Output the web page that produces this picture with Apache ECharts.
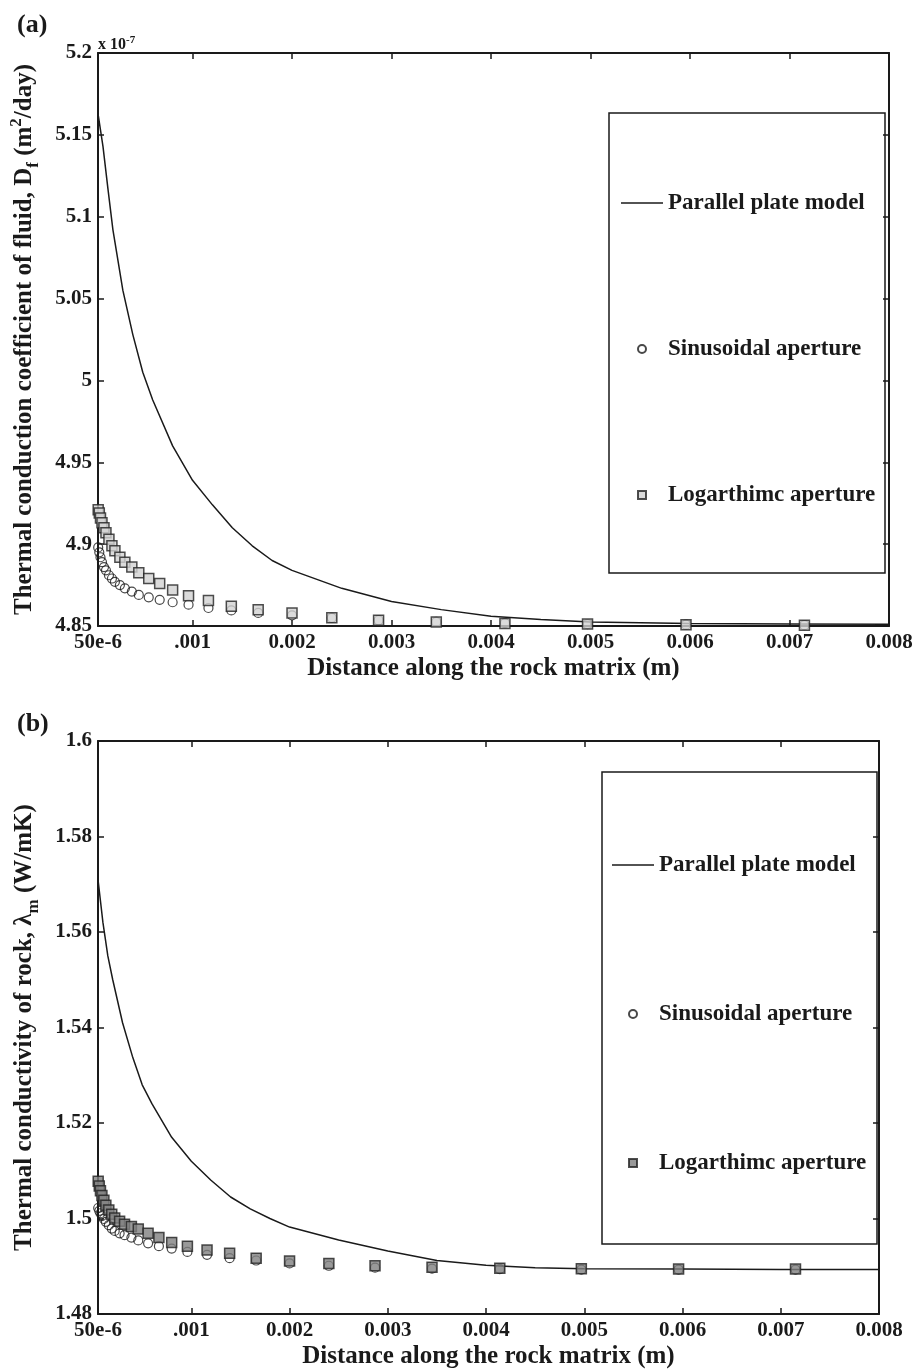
<!DOCTYPE html>
<html>
<head>
<meta charset="utf-8">
<script src="https://cdn.jsdelivr.net/npm/echarts@6/dist/echarts.min.js"></script>
<style>
html, body { margin: 0; padding: 0; background: #fff; }
#chart { width: 921px; height: 1371px; }
</style>
</head>
<body>
<div id="chart"></div>
<script>
// x positions (m) of the marker points
var markerX = [0.000052, 0.000063, 0.000075, 0.00009, 0.00011, 0.00013, 0.00016, 0.00019, 0.00022, 0.00027,
    0.00032, 0.00039, 0.00046, 0.00056, 0.00067, 0.0008, 0.00096, 0.00116, 0.00139, 0.00166,
    0.002, 0.0024, 0.00287, 0.00345, 0.00414, 0.00497, 0.00596, 0.00715];
// x positions (m) for the parallel plate curve
var curveX = [0.00005, 0.0001, 0.00015, 0.0002, 0.0003, 0.0004, 0.0005, 0.0006, 0.0008, 0.001,
    0.0012, 0.0014, 0.0016, 0.0018, 0.002, 0.0025, 0.003, 0.0035, 0.004, 0.0045,
    0.005, 0.006, 0.007, 0.008];

// (a) D_f, in units of 1e-7 m2/day
var plateA = [5.163, 5.143, 5.117, 5.092, 5.055, 5.028, 5.005, 4.988, 4.960, 4.939,
    4.924, 4.910, 4.899, 4.890, 4.884, 4.873, 4.865, 4.860, 4.856, 4.854,
    4.8525, 4.8515, 4.8512, 4.851];
var sinA = [4.898, 4.895, 4.892, 4.889, 4.886, 4.884, 4.881, 4.879, 4.877, 4.875,
    4.873, 4.871, 4.869, 4.8675, 4.866, 4.8645, 4.863, 4.861, 4.8595, 4.858,
    4.8565, 4.855, 4.8535, 4.8525, 4.8517, 4.8512, 4.8508, 4.8505];
var logA = [4.921, 4.919, 4.916, 4.913, 4.910, 4.907, 4.903, 4.899, 4.896, 4.892,
    4.889, 4.886, 4.8826, 4.879, 4.876, 4.872, 4.8685, 4.8655, 4.862, 4.860,
    4.858, 4.855, 4.8535, 4.8525, 4.8515, 4.8512, 4.8508, 4.8505];

// (b) lambda_m, W/mK
var plateB = [1.571, 1.562, 1.555, 1.550, 1.541, 1.534, 1.528, 1.524, 1.517, 1.512,
    1.508, 1.5045, 1.502, 1.500, 1.4982, 1.4955, 1.4932, 1.4912, 1.4902, 1.4897,
    1.4895, 1.4894, 1.4893, 1.4893];
var sinB = [1.5022, 1.5016, 1.5011, 1.5005, 1.4999, 1.4993, 1.4986, 1.4979, 1.4974, 1.4969,
    1.4965, 1.4960, 1.4954, 1.4948, 1.4942, 1.4937, 1.4930, 1.4924, 1.4917, 1.4912,
    1.4906, 1.4901, 1.4897, 1.4895, 1.4894, 1.4893, 1.4893, 1.4893];
var logB = [1.5078, 1.5068, 1.5058, 1.5048, 1.5038, 1.5028, 1.5018, 1.5009, 1.5001, 1.4994,
    1.4988, 1.4983, 1.4978, 1.4969, 1.4960, 1.4950, 1.4942, 1.4934, 1.4927, 1.4917,
    1.4911, 1.4906, 1.4901, 1.4898, 1.4896, 1.4895, 1.4894, 1.4894];

var xTicks = [0.00005, 0.001, 0.002, 0.003, 0.004, 0.005, 0.006, 0.007, 0.008];
var xTickLabels = ['50e-6', '.001', '0.002', '0.003', '0.004', '0.005', '0.006', '0.007', '0.008'];

var FONT = 'Liberation Serif';
var INK = '#1a1a1a';

function pairs(xs, ys) {
    return xs.map(function(x, i) { return [x, ys[i]]; });
}

function xLabel(v) {
    var best = 0;
    for (var i = 1; i < xTicks.length; i++) {
        if (Math.abs(xTicks[i] - v) < Math.abs(xTicks[best] - v)) best = i;
    }
    return xTickLabels[best];
}

var axisLine = { lineStyle: { color: INK, width: 2 } };
var tickStyle = { color: INK, width: 1.5 };
var labelFont = { fontFamily: FONT, fontWeight: 'bold', fontSize: 21, color: INK };
var nameFont = {
    fontFamily: FONT, fontWeight: 'bold', fontSize: 25, color: INK, lineHeight: 34,
    rich: {
        sub: { fontFamily: FONT, fontWeight: 'bold', fontSize: 17, lineHeight: 17, verticalAlign: 'bottom', color: INK },
        sup: { fontFamily: FONT, fontWeight: 'bold', fontSize: 17, lineHeight: 17, verticalAlign: 'top', color: INK }
    }
};

function xAxes(grid) {
    var bottom = {
        type: 'value', gridIndex: grid, position: 'bottom', min: 0.00005, max: 0.008,
        name: 'Distance along the rock matrix (m)', nameLocation: 'middle', nameGap: 30,
        nameTextStyle: { fontFamily: FONT, fontWeight: 'bold', fontSize: 25, color: INK },
        axisLine: axisLine,
        axisTick: { inside: true, length: 6, lineStyle: tickStyle, customValues: xTicks },
        axisLabel: Object.assign({ margin: 6, customValues: xTicks, formatter: xLabel }, labelFont),
        splitLine: { show: false }
    };
    var top = {
        type: 'value', gridIndex: grid, position: 'top', min: 0.00005, max: 0.008,
        axisLine: axisLine,
        axisTick: { inside: true, length: 6, lineStyle: tickStyle, customValues: xTicks },
        axisLabel: { show: false },
        splitLine: { show: false }
    };
    return [bottom, top];
}

function yAxes(grid, min, max, step, name) {
    var left = {
        type: 'value', gridIndex: grid, position: 'left', min: min, max: max, interval: step,
        name: name, nameLocation: 'middle', nameGap: 56, nameRotate: 90,
        nameTextStyle: nameFont,
        axisLine: axisLine,
        axisTick: { inside: true, length: 6, lineStyle: tickStyle },
        axisLabel: Object.assign({ margin: 6 }, labelFont),
        splitLine: { show: false }
    };
    var right = {
        type: 'value', gridIndex: grid, position: 'right', min: min, max: max, interval: step,
        axisLine: axisLine,
        axisTick: { inside: true, length: 6, lineStyle: tickStyle },
        axisLabel: { show: false },
        splitLine: { show: false }
    };
    return [left, right];
}

function panelSeries(axis, suffix, plate, sin, log, squareFill) {
    return [{
        name: 'Parallel plate model' + suffix, type: 'line',
        xAxisIndex: axis, yAxisIndex: axis,
        data: pairs(curveX, plate),
        symbol: 'none', showSymbol: false,
        lineStyle: { color: INK, width: 1.5 },
        itemStyle: { color: INK },
        z: 2
    }, {
        name: 'Sinusoidal aperture' + suffix, type: 'scatter',
        xAxisIndex: axis, yAxisIndex: axis,
        data: pairs(markerX, sin),
        symbol: 'circle', symbolSize: 9,
        itemStyle: { color: 'rgba(255,255,255,0)', borderColor: INK, borderWidth: 1.2 },
        z: 3
    }, {
        name: 'Logarthimc aperture' + suffix, type: 'scatter',
        xAxisIndex: axis, yAxisIndex: axis,
        data: pairs(markerX, log),
        symbol: 'rect', symbolSize: 10,
        itemStyle: { color: squareFill, borderColor: '#222', borderWidth: 1.5 },
        z: 4
    }];
}

function legendFor(suffix, left, top, gap) {
    return {
        orient: 'vertical', left: left, top: top, itemGap: gap,
        itemWidth: 42, itemHeight: 8,
        selectedMode: false,
        textStyle: { fontFamily: FONT, fontWeight: 'bold', fontSize: 23, color: INK, lineHeight: 26 },
        formatter: function(n) { return n.replace(' (b)', ''); },
        data: [
            { name: 'Parallel plate model' + suffix, icon: 'path://M0,0H42V1.6H0Z', itemStyle: { color: INK, borderWidth: 0 } },
            { name: 'Sinusoidal aperture' + suffix },
            { name: 'Logarthimc aperture' + suffix, icon: 'path://M0,0H10V10H0Z' }
        ]
    };
}

var chart = echarts.init(document.getElementById('chart'));
var xa = xAxes(0), xb = xAxes(1);
var ya = yAxes(0, 4.85, 5.2, 0.05, 'Thermal conduction coefficient of fluid, D{sub|f} (m{sup|2}/day)');
var yb = yAxes(1, 1.48, 1.6, 0.02, 'Thermal conductivity of rock, λ{sub|m} (W/mK)');

chart.setOption({
    backgroundColor: '#fff',
    animation: false,
    title: [
        { text: '(a)', left: 12, top: 7, textStyle: { fontFamily: FONT, fontWeight: 'bold', fontSize: 26, color: INK } },
        { text: '(b)', left: 12, top: 706, textStyle: { fontFamily: FONT, fontWeight: 'bold', fontSize: 26, color: INK } },
        {
            text: 'x 10{sup|-7}', left: 93, top: 30,
            textStyle: {
                fontFamily: FONT, fontWeight: 'bold', fontSize: 16, color: INK, lineHeight: 20,
                rich: { sup: { fontFamily: FONT, fontWeight: 'bold', fontSize: 11, lineHeight: 11, verticalAlign: 'top', color: INK } }
            }
        }
    ],
    grid: [
        { left: 98, top: 53, width: 791, height: 573, containLabel: false },
        { left: 98, top: 741, width: 781, height: 573, containLabel: false }
    ],
    xAxis: [xa[0], xa[1], xb[0], xb[1]],
    yAxis: [ya[0], ya[1], yb[0], yb[1]],
    legend: [
        legendFor('', 616, 185, 120),
        legendFor(' (b)', 607, 847, 123)
    ],
    graphic: [
        { type: 'rect', shape: { x: 609, y: 113, width: 276, height: 460 }, style: { fill: 'none', stroke: INK, lineWidth: 1.5 } },
        { type: 'rect', shape: { x: 602, y: 772, width: 275, height: 472 }, style: { fill: 'none', stroke: INK, lineWidth: 1.5 } }
    ],
    series: []
        .concat(panelSeries(0, '', plateA, sinA, logA, '#d2d2d2'))
        .concat(panelSeries(2, ' (b)', plateB, sinB, logB, '#808080'))
});
window.onresize = chart.resize;
</script>
</body>
</html>
